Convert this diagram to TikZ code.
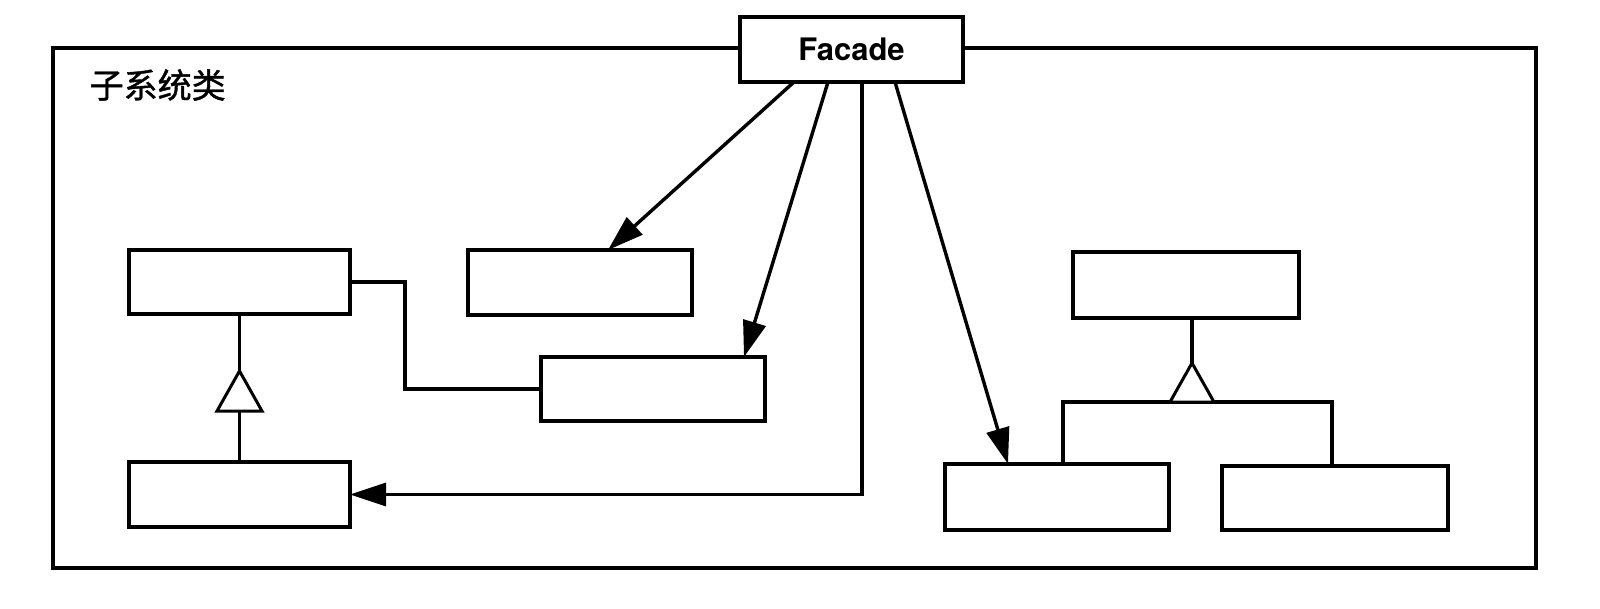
\documentclass[tikz,border=0pt]{standalone}
\usepackage{fontspec}
\newfontfamily\heros{TeX Gyre Heros}
\newfontfamily\cjk[FakeBold=1.2]{Noto Sans CJK SC}
\usetikzlibrary{arrows.meta,calc}
\begin{document}
\begin{tikzpicture}[x=1pt,y=-1pt,
  line width=3.4pt,
  cls/.style={draw,fill=white,inner sep=0pt,outer sep=0pt,minimum width=#1},
  arr/.style={-{Triangle[length=36pt,width=23pt]}},
  gen/.style={draw,fill=white,line width=3pt,line join=miter}
]
\useasboundingbox (0,0) rectangle (1600,609);
\fill[white] (0,0) rectangle (1600,609);
% frame
\node[draw,inner sep=0pt,outer sep=0pt,minimum width=1483pt,minimum height=520pt] (frame) at (794.5,308) {};
\node[anchor=west,inner sep=0pt] (lbl) at (88,85) {\cjk\fontsize{34}{34}\selectfont 子系统类};
% facade
\node[cls=223pt,minimum height=65pt] (fac) at (851.5,49.5) {\heros\bfseries\fontsize{31}{31}\selectfont Facade};
% classes
\node[cls=221pt,minimum height=64pt] (A) at (239.5,282) {};
\node[cls=224pt,minimum height=65pt] (B) at (580,282.5) {};
\node[cls=224pt,minimum height=64pt] (C) at (653,389) {};
\node[cls=221pt,minimum height=65pt] (D) at (239.5,494.5) {};
\node[cls=226pt,minimum height=66pt] (E) at (1186,285) {};
\node[cls=224pt,minimum height=66pt] (F) at (1057,497) {};
\node[cls=226pt,minimum height=64pt] (G) at (1335,498) {};
% facade arrows
\coordinate (f1) at ($(fac.south)+(-57.5,0)$);
\coordinate (f2) at ($(fac.south)+(-23.5,0)$);
\coordinate (f3) at ($(fac.south)+(10.5,0)$);
\coordinate (f4) at ($(fac.south)+(43.5,0)$);
\draw[arr] (f1) -- ($(B.north)+(28,0)$);
\draw[arr] (f2) -- ($(C.north)+(91,0)$);
\draw[arr] (f3) |- (D.east);
\draw[arr] (f4) -- ($(F.north)+(-49,0)$);
% association A - C
\draw (A.east) -- ++(55,0) |- (C.west);
% generalization D -> A
\coordinate (tA) at (239.5,371);
\draw (A.south) -- (tA);
\draw (D.north) -- ($(tA)+(0,40)$);
\draw[gen] (tA) -- ++(-22.5,40) -- ++(45,0) -- cycle;
% generalization F,G -> E
\coordinate (tE) at (1192,363);
\draw (E.south -| tE) -- (tE);
\draw (F.north -| 1063,0) -- (1063,402) -- (1332,402) -- (G.north -| 1332,0);
\draw[gen] (tE) -- ++(-22,39) -- ++(44,0) -- cycle;
\end{tikzpicture}
\end{document}
